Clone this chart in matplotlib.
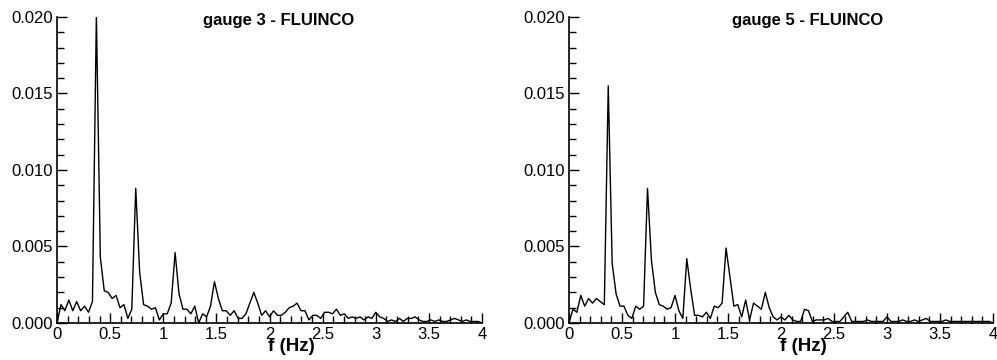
import numpy as np
import matplotlib
matplotlib.use("Agg")
import matplotlib.pyplot as plt
from matplotlib.ticker import MultipleLocator, FormatStrFormatter

plt.rcParams["font.family"] = ["Liberation Sans", "DejaVu Sans"]

# spectrum amplitudes, sampled every 1/27 Hz from 0 to 4 Hz
df = 1.0 / 27.0

gauge3 = [
    0.0000, 0.0012, 0.0008, 0.0015, 0.0008, 0.0014, 0.0008, 0.0011, 0.0007, 0.0014,
    0.0201, 0.0043, 0.0021, 0.0020, 0.0016, 0.0018, 0.0010, 0.0012, 0.0003, 0.0009,
    0.0088, 0.0033, 0.0012, 0.0011, 0.0009, 0.0010, 0.0002, 0.0006, 0.0006, 0.0013,
    0.0046, 0.0019, 0.0009, 0.0009, 0.0006, 0.0011, 0.0000, 0.0006, 0.0004, 0.0011,
    0.0027, 0.0016, 0.0008, 0.0008, 0.0005, 0.0008, 0.0003, 0.0003, 0.0006, 0.0013,
    0.0020, 0.0013, 0.0005, 0.0008, 0.0004, 0.0008, 0.0005, 0.0005, 0.0007, 0.0010,
    0.0011, 0.0013, 0.0008, 0.0008, 0.0002, 0.0005, 0.0005, 0.0003, 0.0007, 0.0007,
    0.0006, 0.0009, 0.0005, 0.0006, 0.0003, 0.0004, 0.0003, 0.0004, 0.0002, 0.0004,
    0.0003, 0.0007, 0.0004, 0.0003, 0.0001, 0.0002, 0.0001, 0.0003, 0.0001, 0.0003,
    0.0003, 0.0004, 0.0002, 0.0001, 0.0001, 0.0002, 0.0001, 0.0002, 0.0001, 0.0001,
    0.0002, 0.0003, 0.0002, 0.0001, 0.0002, 0.0001, 0.0001, 0.0001, 0.0000,
]

gauge5 = [
    0.0000, 0.0009, 0.0007, 0.0018, 0.0011, 0.0016, 0.0013, 0.0016, 0.0014, 0.0012,
    0.0155, 0.0039, 0.0019, 0.0011, 0.0011, 0.0005, 0.0003, 0.0011, 0.0009, 0.0011,
    0.0088, 0.0041, 0.0020, 0.0012, 0.0011, 0.0009, 0.0010, 0.0018, 0.0008, 0.0003,
    0.0042, 0.0022, 0.0005, 0.0005, 0.0004, 0.0007, 0.0003, 0.0011, 0.0010, 0.0013,
    0.0049, 0.0030, 0.0011, 0.0012, 0.0004, 0.0015, 0.0002, 0.0013, 0.0011, 0.0009,
    0.0020, 0.0010, 0.0004, 0.0002, 0.0004, 0.0002, 0.0005, 0.0002, 0.0001, 0.0001,
    0.0009, 0.0008, 0.0001, 0.0002, 0.0002, 0.0002, 0.0003, 0.0001, 0.0001, 0.0001,
    0.0004, 0.0007, 0.0001, 0.0001, 0.0001, 0.0001, 0.0002, 0.0001, 0.0001, 0.0001,
    0.0001, 0.0004, 0.0001, 0.0001, 0.0001, 0.0002, 0.0001, 0.0001, 0.0002, 0.0001,
    0.0002, 0.0003, 0.0001, 0.0001, 0.0001, 0.0001, 0.0002, 0.0001, 0.0001, 0.0001,
    0.0001, 0.0001, 0.0001, 0.0001, 0.0001, 0.0001, 0.0001, 0.0001, 0.0000,
]

titles = ["gauge 3 - FLUINCO", "gauge 5 - FLUINCO"]


def style_axis(ax):
    ax.set_xlim(0, 4)
    ax.set_ylim(0, 0.020)
    for side in ("top", "right"):
        ax.spines[side].set_visible(False)
    for side in ("left", "bottom"):
        ax.spines[side].set_linewidth(1.2)
    ax.xaxis.set_major_locator(MultipleLocator(0.5))
    ax.xaxis.set_minor_locator(MultipleLocator(0.1))
    ax.yaxis.set_major_locator(MultipleLocator(0.005))
    ax.yaxis.set_minor_locator(MultipleLocator(0.001))
    ax.yaxis.set_major_formatter(FormatStrFormatter("%.3f"))
    ax.xaxis.set_major_formatter(lambda v, p: f"{v:g}")
    ax.tick_params(which="both", direction="in", labelsize=12, width=1.0,
                   top=False, right=False)
    ax.tick_params(which="major", length=7)
    ax.tick_params(which="minor", length=5)
    ax.tick_params(axis="x", pad=3)
    ax.tick_params(axis="y", pad=3)


fig = plt.figure(figsize=(9.97, 3.6), dpi=100)
ax1 = fig.add_axes([0.0572, 0.1028, 0.4263, 0.85])
ax2 = fig.add_axes([0.5707, 0.1028, 0.4253, 0.85])

freq = np.arange(len(gauge3)) * df

for ax, amp, title, tx in [(ax1, gauge3, titles[0], 0.522),
                           (ax2, gauge5, titles[1], 0.5625)]:
    ax.plot(freq, amp, color="black", lw=1.0)
    style_axis(ax)
    ax.text(tx, 0.99, title, transform=ax.transAxes, ha="center", va="center",
            fontsize=12, fontweight="bold")
    ax.text(0.552, -0.078, "f (Hz)", transform=ax.transAxes, ha="center",
            va="center", fontsize=13.5, fontweight="bold")

fig.savefig("out.png", dpi=100)
